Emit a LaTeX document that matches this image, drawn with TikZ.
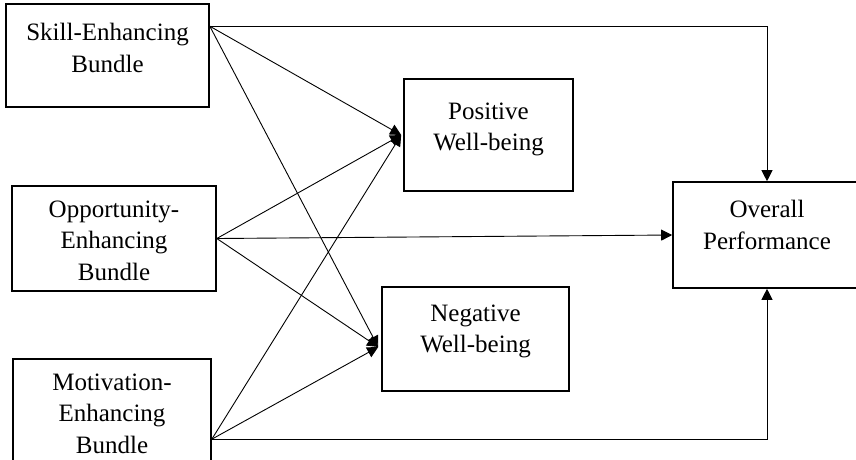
\documentclass[tikz,border=0pt]{standalone}
\usepackage{fontspec}
\setmainfont{Liberation Serif}
\usetikzlibrary{arrows.meta}
\begin{document}
\begin{tikzpicture}[x=1pt,y=-1pt,
  box/.style={draw, line width=1.6pt, inner sep=0pt, rectangle},
  txt/.style={align=center, inner sep=0pt, anchor=north, font=\fontsize{25}{31.5}\selectfont},
  conn/.style={line width=0.9pt, -{Triangle[length=11pt,width=11pt]}},
  plain/.style={line width=0.9pt}]
\useasboundingbox (0,0) rectangle (856,459);
% boxes
\node[box, minimum width=203pt, minimum height=103pt] (skill) at (107.5,55.5) {};
\node[box, minimum width=204pt, minimum height=105pt] (opp) at (114,238.5) {};
\node[box, minimum width=198pt, minimum height=112pt] (mot) at (112,415) {};
\node[box, minimum width=169pt, minimum height=112pt] (pos) at (488.5,135) {};
\node[box, minimum width=187pt, minimum height=104pt] (neg) at (475.5,339) {};
\node[box, minimum width=188pt, minimum height=106pt] (over) at (767,235) {};
% texts
\node[txt] (skillt) at (107.5,23.3) {Skill-Enhancing\\Bundle};
\node[txt] (oppt) at (114,200.3) {Opportunity-\\Enhancing\\Bundle};
\node[txt] (mott) at (112,373.3) {Motivation-\\Enhancing\\Bundle};
\node[txt] (post) at (488.5,102.3) {Positive\\Well-being};
\node[txt] (negt) at (475.5,304.3) {Negative\\Well-being};
\node[txt] (overt) at (767,200.3) {Overall\\Performance};
% connection points
\coordinate (sk) at ([yshift=-23pt]skill.north east);
\coordinate (mo) at ([yshift=-81pt]mot.north east);
\coordinate (negin) at ([yshift=-8pt,xshift=-3pt]neg.west);
\coordinate (posin) at ([xshift=-2pt]pos.west);
% connectors
\draw[conn] (sk) -| (over.north);
\draw[conn] (sk) -- (posin);
\draw[conn] (sk) -- (negin);
\draw[conn] (opp.east) -- (posin);
\draw[conn] (opp.east) -- (negin);
\draw[conn] (opp.east) -- (over.west);
\draw[conn] (mo) -- (posin);
\draw[conn] (mo) -- (negin);
\draw[conn] (mo) -| (over.south);
\end{tikzpicture}
\end{document}
